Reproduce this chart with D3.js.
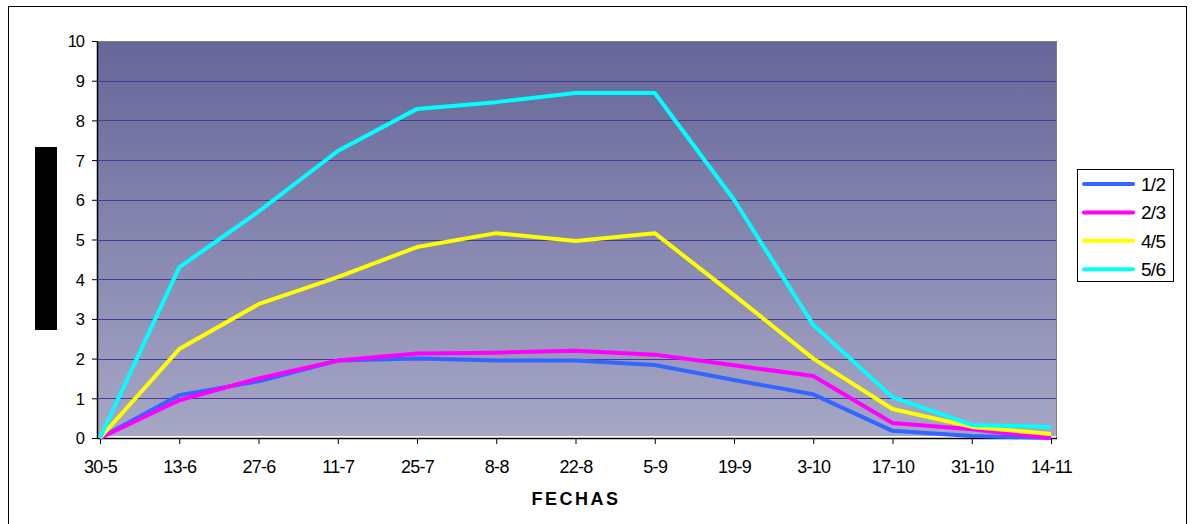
<!DOCTYPE html>
<html><head><meta charset="utf-8">
<script src="https://cdn.jsdelivr.net/npm/d3@7/dist/d3.min.js"></script>
<style>body{margin:0;background:#fff;}svg{display:block;font-family:"Liberation Sans",Arial,sans-serif;}</style>
</head><body>
<svg id="c" width="1194" height="524"></svg>
<script>
const categories = ["30-5","13-6","27-6","11-7","25-7","8-8","22-8","5-9","19-9","3-10","17-10","31-10","14-11"];
const seriesNames = ["1/2","2/3","4/5","5/6"];
const seriesColors = ["#3366ff","#ff00ff","#ffff00","#00ffff"];
const s12 = [0,1.08,1.43,1.95,2.0,1.95,1.95,1.84,1.46,1.1,0.18,0.05,0];
const s23 = [0,0.95,1.5,1.95,2.13,2.15,2.2,2.1,1.83,1.56,0.38,0.22,0];
const s45 = [0,2.24,3.37,4.05,4.81,5.16,4.96,5.16,3.6,2.0,0.73,0.28,0.1];
const s56 = [0,4.3,5.7,7.23,8.29,8.46,8.69,8.69,6.0,2.85,1.03,0.33,0.28];
const yTicks = [0,1,2,3,4,5,6,7,8,9,10];
const xTitle = "FECHAS";
const series = [s12,s23,s45,s56];

const svg = d3.select("#c");
const L=97, R=1057, T=41, B=438;
const FF = "'Liberation Sans',Arial,sans-serif";
// outer border
svg.append("rect").attr("x",8.5).attr("y",6.5).attr("width",1178).attr("height",530).attr("fill","none").attr("stroke","#000").attr("stroke-width",1);

const defs = svg.append("defs");
const g = defs.append("linearGradient").attr("id","bg").attr("x1",0).attr("y1",0).attr("x2",0).attr("y2",1);
g.append("stop").attr("offset","0%").attr("stop-color","#666699");
g.append("stop").attr("offset","100%").attr("stop-color","#a6a7c6");

const x = d3.scalePoint().domain(categories).range([100,1051]);
const y = d3.scaleLinear().domain([0,10]).range([B,T]);

svg.append("rect").attr("x",L).attr("y",T).attr("width",R-L).attr("height",B-T-2).attr("fill","url(#bg)");
svg.append("line").attr("x1",L).attr("x2",R).attr("y1",T+0.5).attr("y2",T+0.5).attr("stroke","#808080");
svg.append("line").attr("x1",R-0.5).attr("x2",R-0.5).attr("y1",T).attr("y2",B).attr("stroke","#808080");

// gridlines
svg.append("g").selectAll("line").data(yTicks.filter(d=>d>0&&d<10)).join("line")
  .attr("x1",L).attr("x2",R-1).attr("y1",d=>Math.round(y(d))+0.5).attr("y2",d=>Math.round(y(d))+0.5)
  .attr("stroke","#3f3f96").attr("stroke-width",1);

// y axis
const ya = svg.append("g").attr("transform",`translate(${L},0)`)
  .call(d3.axisLeft(y).tickValues(yTicks).tickSize(5).tickSizeOuter(0));
ya.attr("font-size",null).attr("font-family",null);
ya.select(".domain").attr("stroke","#000").attr("stroke-width",1.5);
ya.selectAll("text").style("font-size","16.5px").attr("fill","#000").attr("x",-13).attr("dy","0.36em").attr("letter-spacing","-1px").style("font-family",FF);

// x axis
const xa = svg.append("g").attr("transform",`translate(0,${B})`)
  .call(d3.axisBottom(x).tickSize(6).tickSizeOuter(0));
xa.attr("font-size",null).attr("font-family",null);
xa.select(".domain").attr("d",`M${L},0.5H${R}`).attr("stroke","#000").attr("stroke-width",1.5);
xa.selectAll("text").style("font-size","18px").attr("fill","#000").attr("y",35).attr("dy",null).attr("letter-spacing","-0.7px").style("font-family",FF);

svg.append("text").attr("x",576).attr("y",505).attr("text-anchor","middle").style("font-size","18px").attr("font-weight","bold").attr("letter-spacing","2.5px").text(xTitle);

// black y-title block
svg.append("rect").attr("x",35).attr("y",147).attr("width",22).attr("height",183).attr("fill","#000");

// lines
const line = d3.line().x((d,i)=>x(categories[i])).y(d=>y(d));
series.forEach((s,k)=>{
  svg.append("path").datum(s).attr("d",line).attr("fill","none")
    .attr("stroke",seriesColors[k]).attr("stroke-width",4).attr("stroke-linejoin","round");
});

// legend
const lg = svg.append("g");
lg.append("rect").attr("x",1077.5).attr("y",169.5).attr("width",96).attr("height",112).attr("fill","#fff").attr("stroke","#000");
seriesNames.forEach((n,k)=>{
  const yy = 184 + k*28.4;
  lg.append("line").attr("x1",1084).attr("x2",1133).attr("y1",yy).attr("y2",yy).attr("stroke",seriesColors[k]).attr("stroke-width",4).attr("stroke-linecap","round");
  lg.append("text").attr("x",1141).attr("y",yy+7).style("font-size","19px").attr("letter-spacing","-0.7px").text(n);
});
</script>
</body></html>
